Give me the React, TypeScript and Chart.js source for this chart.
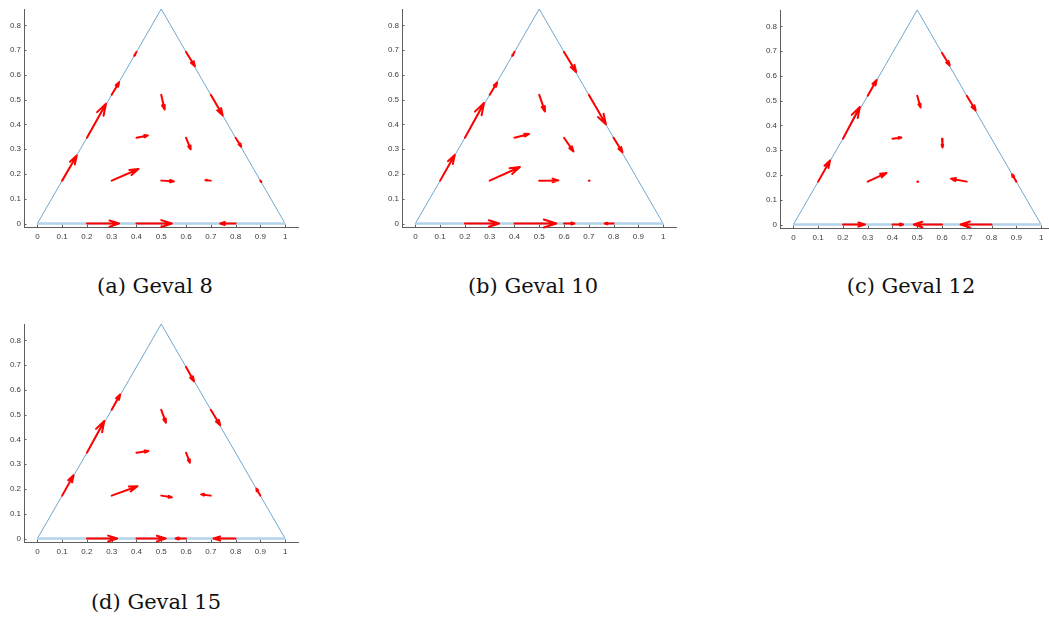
import { useEffect, useRef } from 'react';
import { Chart, registerables } from 'chart.js';

Chart.register(...registerables);

// Sample points on the simplex (edges and interior), shared by every case
const GRID_X = [0.1, 0.2, 0.3, 0.4, 0.6, 0.7, 0.8, 0.9, 0.3, 0.5, 0.7, 0.4, 0.6, 0.5, 0.2, 0.4, 0.6, 0.8];
const GRID_Y = [0.1732, 0.3464, 0.5196, 0.6928, 0.6928, 0.5196, 0.3464, 0.1732, 0.1732, 0.1732, 0.1732, 0.3464, 0.3464, 0.5196, 0, 0, 0, 0];

// Direction field per case (displayed vector components)
const U_8 = [0.059, 0.077, 0.03, -0.009, 0.036, 0.048, 0.023, 0.004, 0.108, 0.051, -0.022, 0.046, 0.019, 0.013, 0.13, 0.143, 0, -0.062];
const V_8 = [0.101, 0.137, 0.051, -0.016, -0.058, -0.083, -0.036, -0.006, 0.047, -0.003, 0.002, 0.009, -0.047, -0.059, 0, 0, 0, 0];

const U_10 = [0.059, 0.077, 0.03, -0.009, 0.049, 0.069, 0.036, 0, 0.122, 0.077, 0.003, 0.059, 0.038, 0.023, 0.138, 0.169, 0.042, -0.036];
const V_10 = [0.104, 0.14, 0.05, -0.016, -0.081, -0.119, -0.059, 0, 0.055, 0.001, 0, 0.015, -0.055, -0.067, 0, 0, 0, 0];

const U_12 = [0.048, 0.068, 0.036, 0, 0.031, 0.036, 0, -0.017, 0.076, 0.004, -0.064, 0.036, 0.002, 0.013, 0.089, 0.043, -0.114, -0.125];
const V_12 = [0.085, 0.128, 0.064, 0, -0.051, -0.059, 0, 0.029, 0.035, 0, 0.012, 0.005, -0.035, -0.047, 0, 0, 0, 0];

const U_15 = [0.046, 0.07, 0.034, 0, 0.032, 0.038, 0, -0.016, 0.104, 0.043, -0.039, 0.048, 0.016, 0.019, 0.122, 0.118, -0.042, -0.089];
const V_15 = [0.082, 0.128, 0.062, 0, -0.058, -0.062, 0, 0.028, 0.038, -0.007, 0.005, 0.007, -0.04, -0.052, 0, 0, 0, 0];

// Triangle outline
const TRI_X = [0, 1, 0.5, 0];
const TRI_Y = [0, 0, 0.866, 0];
const BASE_X = [0, 1];
const BASE_Y = [0, 0];

const X_TICKS = [0, 0.1, 0.2, 0.3, 0.4, 0.5, 0.6, 0.7, 0.8, 0.9, 1];
const Y_TICKS = [0, 0.1, 0.2, 0.3, 0.4, 0.5, 0.6, 0.7, 0.8];

const CAPTIONS = ['(a) Geval 8', '(b) Geval 10', '(c) Geval 12', '(d) Geval 15'];

const X_MIN = -0.054;
const X_MAX = 1.052;
const Y_MIN = -0.014;
const Y_MAX = 0.866;

const CANVAS_W = 308;
const CANVAS_H = 248;
const Y_AXIS_W = 22;
const X_AXIS_H = 22;

const TICK_FONT = { family: '"Liberation Sans", Arial, sans-serif', size: 8 };
const TICK_COLOR = '#3c3c3c';
const AXIS_COLOR = '#5e5e5e';

type Pt = { x: number; y: number };

function arrowPoints(x: number, y: number, u: number, v: number): Pt[] {
  const tx = x + u;
  const ty = y + v;
  const a = 0.3;
  const b = 0.32;
  return [
    { x, y },
    { x: tx, y: ty },
    { x: tx - a * (u + b * v), y: ty - a * (v - b * u) },
    { x: tx, y: ty },
    { x: tx - a * (u - b * v), y: ty - a * (v + b * u) },
  ];
}

const inwardTicks = {
  id: 'inwardTicks',
  beforeDatasetsDraw(chart: any) {
    const { ctx, chartArea, scales } = chart;
    const xs = scales.x;
    const ys = scales.y;
    ctx.save();
    ctx.strokeStyle = AXIS_COLOR;
    ctx.lineWidth = 1;
    ctx.beginPath();
    for (const t of X_TICKS) {
      const px = Math.round(xs.getPixelForValue(t)) + 0.5;
      ctx.moveTo(px, chartArea.bottom);
      ctx.lineTo(px, chartArea.bottom - 2.5);
    }
    for (const t of Y_TICKS) {
      const py = Math.round(ys.getPixelForValue(t)) + 0.5;
      ctx.moveTo(chartArea.left, py);
      ctx.lineTo(chartArea.left + 2.5, py);
    }
    ctx.stroke();
    ctx.restore();
  },
};

function QuiverPanel({ u, v }: { u: number[]; v: number[] }) {
  const ref = useRef<HTMLCanvasElement | null>(null);

  useEffect(() => {
    if (!ref.current) return;
    const datasets: any[] = [];
    GRID_X.forEach((gx, i) => {
      const du = u[i];
      const dv = v[i];
      if (du === 0 && dv === 0) return;
      datasets.push({
        data: arrowPoints(gx, GRID_Y[i], du, dv),
        showLine: true,
        borderColor: '#ff0000',
        borderWidth: 2,
        borderJoinStyle: 'round',
        borderCapStyle: 'round',
        pointRadius: 0,
        clip: false,
      });
    });
    datasets.push({
      data: BASE_X.map((x, i) => ({ x, y: BASE_Y[i] })),
      showLine: true,
      borderColor: '#b3d3ea',
      borderWidth: 2.6,
      pointRadius: 0,
      clip: false,
    });
    datasets.push({
      data: TRI_X.map((x, i) => ({ x, y: TRI_Y[i] })),
      showLine: true,
      borderColor: '#6fa7cf',
      borderWidth: 1,
      pointRadius: 0,
      clip: false,
    });

    const chart = new Chart(ref.current, {
      type: 'scatter',
      data: { datasets },
      plugins: [inwardTicks],
      options: {
        animation: false,
        responsive: false,
        maintainAspectRatio: false,
        layout: { padding: { top: 8, right: 12, left: 0, bottom: 0 } },
        plugins: { legend: { display: false }, tooltip: { enabled: false } },
        scales: {
          x: {
            type: 'linear',
            min: X_MIN,
            max: X_MAX,
            afterBuildTicks: (s: any) => {
              s.ticks = X_TICKS.map((value) => ({ value }));
            },
            afterFit: (s: any) => {
              s.height = X_AXIS_H;
            },
            grid: { display: true, drawOnChartArea: false, drawTicks: false },
            border: { display: true, color: AXIS_COLOR, width: 1 },
            ticks: {
              padding: 5,
              color: TICK_COLOR,
              font: TICK_FONT,
              maxRotation: 0,
              autoSkip: false,
              callback: (val: any) => String(val),
            },
          },
          y: {
            type: 'linear',
            min: Y_MIN,
            max: Y_MAX,
            afterBuildTicks: (s: any) => {
              s.ticks = Y_TICKS.map((value) => ({ value }));
            },
            afterFit: (s: any) => {
              s.width = Y_AXIS_W;
            },
            grid: { display: true, drawOnChartArea: false, drawTicks: false },
            border: { display: true, color: AXIS_COLOR, width: 1 },
            ticks: {
              padding: 3,
              color: TICK_COLOR,
              font: TICK_FONT,
              autoSkip: false,
              callback: (val: any) => String(val),
            },
          },
        },
      } as any,
    });
    return () => chart.destroy();
  }, [u, v]);

  return <canvas ref={ref} width={CANVAS_W} height={CANVAS_H} style={{ width: CANVAS_W, height: CANVAS_H, display: 'block' }} />;
}

const PANELS = [
  { u: U_8, v: V_8, left: 2, top: 1, capX: 155, capTop: 274 },
  { u: U_10, v: V_10, left: 380, top: 1, capX: 533, capTop: 274 },
  { u: U_12, v: V_12, left: 758, top: 2, capX: 911, capTop: 274 },
  { u: U_15, v: V_15, left: 2, top: 316, capX: 156, capTop: 590 },
];

export default function App() {
  return (
    <div
      style={{
        position: 'absolute',
        left: 0,
        top: 0,
        width: 1049,
        height: 617,
        overflow: 'hidden',
        background: '#ffffff',
      }}
    >
      {PANELS.map((p, i) => (
        <div key={i}>
          <div style={{ position: 'absolute', left: p.left, top: p.top }}>
            <QuiverPanel u={p.u} v={p.v} />
          </div>
          <div
            style={{
              position: 'absolute',
              left: p.capX - 150,
              top: p.capTop,
              width: 300,
              textAlign: 'center',
              fontFamily: '"DejaVu Serif", serif',
              fontSize: 21,
              lineHeight: '24px',
              color: '#111',
              whiteSpace: 'nowrap',
            }}
          >
            {CAPTIONS[i]}
          </div>
        </div>
      ))}
    </div>
  );
}
